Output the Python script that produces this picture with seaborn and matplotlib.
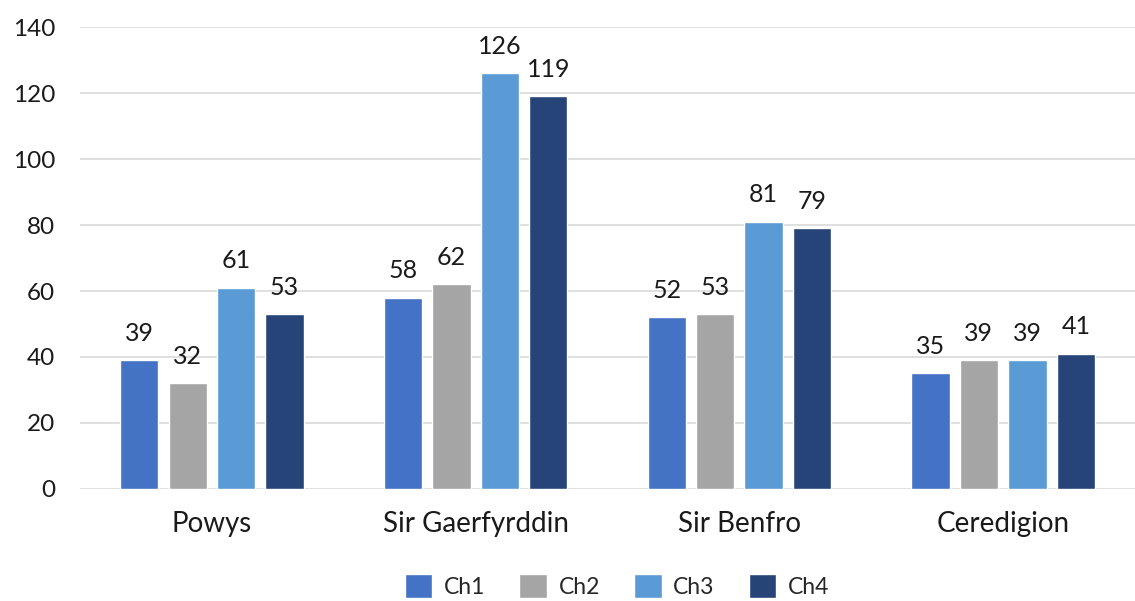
import matplotlib
matplotlib.use("Agg")
import matplotlib.pyplot as plt
import seaborn as sns
import pandas as pd

categories = ["Powys", "Sir Gaerfyrddin", "Sir Benfro", "Ceredigion"]
series = ["Ch1", "Ch2", "Ch3", "Ch4"]
ch1 = [39, 58, 52, 35]
ch2 = [32, 62, 53, 39]
ch3 = [61, 126, 81, 39]
ch4 = [53, 119, 79, 41]
colors = ["#4472C4", "#A5A5A5", "#5B9BD5", "#264478"]

rows = []
for s, vals in zip(series, [ch1, ch2, ch3, ch4]):
    for c, v in zip(categories, vals):
        rows.append({"Region": c, "Series": s, "Value": v})
df = pd.DataFrame(rows)

sns.set_theme(style="white")
plt.rcParams["font.family"] = ["Lato", "DejaVu Sans"]

fig = plt.figure(figsize=(11.35, 6.01), dpi=100)
ax = fig.add_axes([0.0705, 0.1864, 0.9295, 0.7686])

sns.barplot(data=df, x="Region", y="Value", hue="Series", order=categories,
            hue_order=series, palette=colors, width=0.735, gap=0.21,
            saturation=1, ax=ax, legend=True)

for cont in ax.containers:
    ax.bar_label(cont, padding=11, fontsize=18, color="#1a1a1a")

ax.set_ylim(0, 140)
ax.set_yticks(range(0, 141, 20))
ax.yaxis.grid(True, color="#d9d9d9", linewidth=1.2)
ax.set_axisbelow(True)
for sp in ax.spines.values():
    sp.set_visible(False)
ax.set_xlabel("")
ax.set_ylabel("")
ax.tick_params(axis="y", labelsize=17.5, colors="#1a1a1a", length=0, pad=18)
ax.tick_params(axis="x", labelsize=20, colors="#1a1a1a", length=0, pad=16)
ax.set_xlim(-0.5, 3.5)

handles, labels = ax.get_legend_handles_labels()
ax.legend(handles, labels, loc="upper center", bbox_to_anchor=(0.509, -0.14),
          ncol=4, frameon=False, fontsize=16.5, handlelength=1.2, handleheight=1.2,
          columnspacing=1.5, handletextpad=0.5)

fig.savefig("out.png", dpi=100)
